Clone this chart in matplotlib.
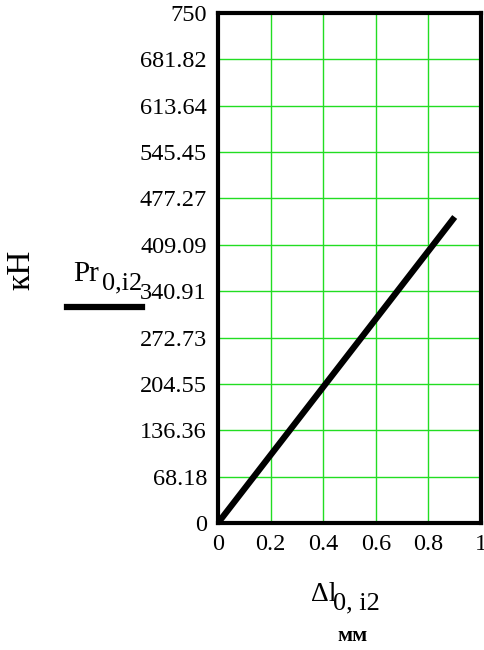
import numpy as np
import matplotlib.pyplot as plt
from matplotlib.lines import Line2D

plt.rcParams['font.family'] = ['Liberation Serif', 'DejaVu Serif']
plt.rcParams['axes.linewidth'] = 3

# force Pr vs. displacement dl
dl = [0.0, 0.9]
pr = [0.0, 450.0]

xticks = [0, 0.2, 0.4, 0.6, 0.8, 1]
xticklabels = ['0', '0.2', '0.4', '0.6', '0.8', '1']
yticks = [0, 68.18, 136.36, 204.55, 272.73, 340.91, 409.09, 477.27,
          545.45, 613.64, 681.82, 750]
yticklabels = ['0', '68.18', '136.36', '204.55', '272.73', '340.91', '409.09',
               '477.27', '545.45', '613.64', '681.82', '750']

fig = plt.figure(figsize=(4.84, 6.5), dpi=100)
ax = fig.add_axes([218/484, 127/650, 263/484, 510/650])

ax.plot(dl, pr, color='black', lw=4.5, solid_capstyle='butt', zorder=3)

ax.set_xlim(0, 1)
ax.set_ylim(0, 750)
ax.set_xticks(xticks)
ax.set_xticklabels(xticklabels)
ax.set_yticks(yticks)
ax.set_yticklabels(yticklabels)
ax.tick_params(length=0, labelsize=17.5, pad=8)
ax.grid(True, color='#22dd22', lw=1.0)
ax.set_axisbelow(True)

# axis titles placed in figure pixels
W, H = 484, 650
fig.text(21/W, 1 - 270/H, 'кН', rotation=90, fontsize=24, ha='center', va='center')
fig.text(73/W, 1 - 281/H, 'Pr', fontsize=21, ha='left', va='baseline')
fig.text(102/W, 1 - 289/H, '0,i2', fontsize=19, ha='left', va='baseline')
fig.add_artist(Line2D([67/W, 142/W], [1 - 307/H, 1 - 307/H], color='black', lw=4.5,
                      transform=fig.transFigure))

fig.text(311/W, 1 - 601/H, 'Δl', fontsize=20, ha='left', va='baseline')
fig.text(333/W, 1 - 609/H, '0, i2', fontsize=19, ha='left', va='baseline')
fig.text(353/W, 1 - 636/H, 'мм', fontsize=16, fontweight='bold', ha='center', va='center')

fig.savefig('out.png', dpi=100)
